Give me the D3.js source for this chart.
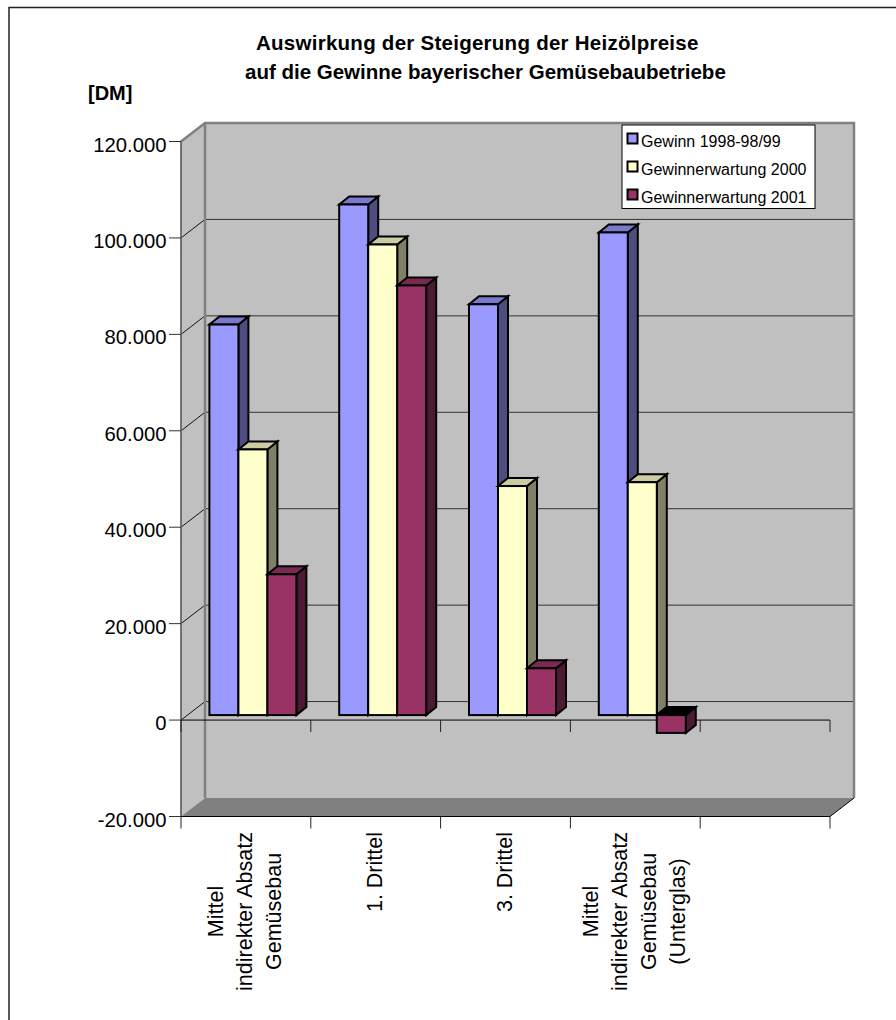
<!DOCTYPE html>
<html><head><meta charset="utf-8">
<script src="https://cdnjs.cloudflare.com/ajax/libs/d3/7.8.5/d3.min.js"></script>
<style>html,body{margin:0;background:#fff}svg{display:block}text{font-family:"Liberation Sans",Arial,sans-serif;fill:#000}</style>
</head><body><svg id="c" width="896" height="1020"></svg>
<script>
const categories=[["Mittel","indirekter Absatz","Gemüsebau"],["1. Drittel"],["3. Drittel"],["Mittel","indirekter Absatz","Gemüsebau","(Unterglas)"]];
const seriesNames=["Gewinn 1998-98/99","Gewinnerwartung 2000","Gewinnerwartung 2001"];
const gewinn1998=[81000,105900,85200,100100];
const gewinn2000=[55100,97600,47500,48300];
const gewinn2001=[29200,89100,9700,-3700];
const yTicks=[-20000,0,20000,40000,60000,80000,100000,120000];
const tickLabels=["-20.000","0","20.000","40.000","60.000","80.000","100.000","120.000"];
const faceColors=[["#9999FF","#7A7ACC","#4D4D80"],["#FFFFCC","#CCCCA3","#808066"],["#993366","#7A2952","#4D1A33"]];
const series=[gewinn1998,gewinn2000,gewinn2001];

const svg=d3.select("#c");
const y=d3.scaleLinear().domain([-20000,120000]).range([816.5,141.5]);
const slots=d3.range(5);
const x=d3.scaleBand().domain(slots).range([181,830]).paddingInner(0).paddingOuter(0);
const xs=d3.scaleBand().domain([0,1,2]).range([0,87]);
const wall={dx:24,dy:-18.5}, front={dx:7,dy:-5}, depth={dx:10,dy:-8};
const path=p=>"M"+p.map(a=>a.join(",")).join("L")+"Z";

// frame: left and top edges only
svg.append("path").attr("d","M9,1020V7.5H896").attr("fill","none").attr("stroke","#222").attr("stroke-width",1.5);

// walls
const L=181,R=830,T=y(120000),B=y(-20000);
svg.append("path").attr("d",path([[L,T],[L+wall.dx,T+wall.dy],[L+wall.dx,B+wall.dy],[L,B]])).attr("fill","#C0C0C0");
svg.append("rect").attr("x",L+wall.dx).attr("y",T+wall.dy).attr("width",R-L).attr("height",B-T).attr("fill","#C0C0C0");
svg.append("path").attr("d",path([[L,B],[L+wall.dx,B+wall.dy],[R+wall.dx,B+wall.dy],[R,B]])).attr("fill","#808080");
// gridlines
yTicks.filter(v=>v>-20000&&v<120000).forEach(v=>{
  svg.append("path").attr("d",`M${L},${y(v)}L${L+wall.dx},${y(v)+wall.dy}`).attr("fill","none").attr("stroke","#111").attr("stroke-width",1);
  svg.append("path").attr("d",`M${L+wall.dx},${y(v)+wall.dy}H${R+wall.dx}`).attr("fill","none").attr("stroke","#333").attr("stroke-width",1);
});
// wall outlines
svg.append("path").attr("d",`M${L},${T}L${L+wall.dx},${T+wall.dy}H${R+wall.dx}V${B+wall.dy}`).attr("fill","none").attr("stroke","#808080").attr("stroke-width",2.5);
svg.append("path").attr("d",`M${L+wall.dx},${T+wall.dy}V${B+wall.dy}`).attr("fill","none").attr("stroke","#808080").attr("stroke-width",2.5);
svg.append("path").attr("d",`M${R},${B}L${R+wall.dx},${B+wall.dy}`).attr("fill","none").attr("stroke","#000").attr("stroke-width",1);
// axes
svg.append("line").attr("x1",L).attr("x2",L).attr("y1",T).attr("y2",B).attr("stroke","#606060").attr("stroke-width",1.7);
yTicks.forEach((v,i)=>{
  svg.append("line").attr("x1",L-12).attr("x2",L).attr("y1",y(v)).attr("y2",y(v)).attr("stroke","#333");
  svg.append("text").attr("x",166.5).attr("y",y(v)+10).attr("text-anchor","end").attr("font-size",20.3).text(tickLabels[i]);
});
[0,-20000].forEach(v=>{
  svg.append("line").attr("x1",L).attr("x2",R).attr("y1",y(v)).attr("y2",y(v)).attr("stroke","#000");
  const ticks=slots.map(s=>x(s)).concat([R]);
  ticks.forEach(t=>svg.append("line").attr("x1",t).attr("x2",t).attr("y1",y(v)).attr("y2",y(v)+12).attr("stroke","#222"));
});

// bars
categories.forEach((c,ci)=>{
  const x0=x(ci)+(x.bandwidth()-87)/2+front.dx;
  series.forEach((s,si)=>{
    const v=s[ci];
    const xa=x0+xs(si), xb=xa+xs.bandwidth();
    const y0=y(0)+front.dy, yv=y(v)+front.dy;
    const top=Math.min(y0,yv), bot=Math.max(y0,yv);
    const g=svg.append("g").attr("stroke","#000").attr("stroke-width",2).attr("stroke-linejoin","miter");
    g.append("path").attr("d",path([[xb,top],[xb+depth.dx,top+depth.dy],[xb+depth.dx,bot+depth.dy],[xb,bot]])).attr("fill",faceColors[si][2]);
    g.append("path").attr("d",path([[xa,top],[xa+depth.dx,top+depth.dy],[xb+depth.dx,top+depth.dy],[xb,top]])).attr("fill",v<0?"#000":faceColors[si][1]);
    g.append("rect").attr("x",xa).attr("y",top).attr("width",xb-xa).attr("height",bot-top).attr("fill",faceColors[si][0]);
  });
});

// legend
const lg=svg.append("g");
lg.append("rect").attr("x",622).attr("y",125).attr("width",193).attr("height",83.5).attr("fill","#fff").attr("stroke","#000");
seriesNames.forEach((n,i)=>{
  const ly=142+i*28;
  lg.append("rect").attr("x",627.5).attr("y",ly-8.5).attr("width",10).attr("height",10).attr("fill",faceColors[i][0]).attr("stroke","#000").attr("stroke-width",2);
  lg.append("text").attr("x",641).attr("y",ly+5).attr("font-size",16).text(n);
});

// titles
svg.append("text").attr("x",256).attr("y",50).attr("font-weight","bold").attr("font-size",20.5).attr("letter-spacing",0.26).text("Auswirkung der Steigerung der Heizölpreise");
svg.append("text").attr("x",245).attr("y",78.5).attr("font-weight","bold").attr("font-size",20.5).text("auf die Gewinne bayerischer Gemüsebaubetriebe");
svg.append("text").attr("x",88).attr("y",100).attr("font-weight","bold").attr("font-size",20).text("[DM]");

// category labels: lines centred on each other, block hangs below the axis
categories.forEach((c,ci)=>{
  const cx=x(ci)+x.bandwidth()/2;
  const t=svg.append("text").attr("text-anchor","middle").attr("font-size",21.5);
  const n=c.length;
  const spans=c.map((line,i)=>t.append("tspan").attr("x",0).attr("y",(i-(n-1)/2)*29+6.3).text(line));
  const maxLen=d3.max(spans,s=>s.node().getComputedTextLength());
  t.attr("transform",`translate(${cx},${832+maxLen/2}) rotate(-90)`);
});
</script></body></html>
